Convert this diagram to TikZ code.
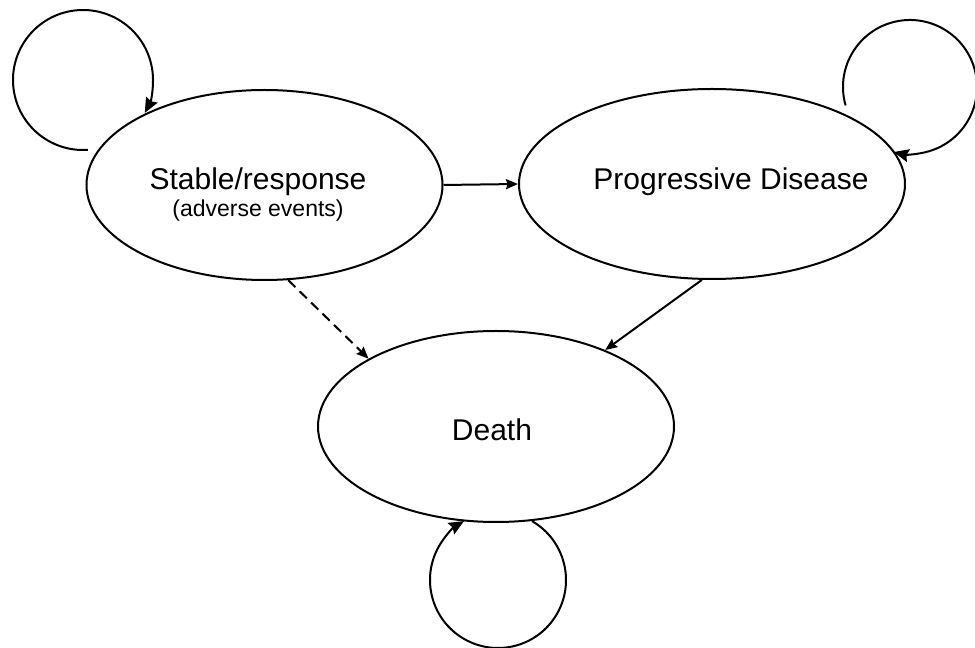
\documentclass[tikz,border=0pt]{standalone}
\usepackage{fontspec}
\setmainfont{Liberation Sans}
\usetikzlibrary{shapes.geometric,arrows.meta,calc}
\begin{document}
\begin{tikzpicture}[x=1pt,y=1pt,
  state/.style={draw=black,line width=2pt,ellipse,inner sep=0pt},
  conn/.style={line width=2pt,-{Stealth[length=12pt,width=10pt,inset=1.5pt]}},
  loopconn/.style={line width=2pt,-{Stealth[length=15pt,width=13pt,inset=2pt]}},
  bigtext/.style={font=\fontsize{30}{36}\selectfont,inner sep=0pt,anchor=base},
  smalltext/.style={font=\fontsize{23}{28}\selectfont,inner sep=0pt,anchor=base}]
\useasboundingbox (0,0) rectangle (975,648);
\node[state,minimum width=356pt,minimum height=190pt] (s) at (264.5,463) {};
\node[state,minimum width=386pt,minimum height=190pt] (p) at (712,464) {};
\node[state,minimum width=356pt,minimum height=191pt] (d) at (496,221.5) {};
\node[bigtext] (st) at (258,458) {Stable/response};
\node[smalltext] (ae) at (258,431) {(adverse events)};
\node[bigtext] (pt) at (731,458) {Progressive Disease};
\node[bigtext] (dt) at (492,207) {Death};
\draw[conn] (s.east) -- (p.west);
\draw[conn] (p.264) -- (d.35);
\draw[conn,dashed,dash pattern=on 10pt off 6pt] (s.284) -- (d.152);
\coordinate (ls) at ($(83,568)+(-86:70)$);
\draw[loopconn] (ls) arc[start angle=-86,end angle=-388,radius=70];
\coordinate (lp) at ($(910,561)+(196:67)$);
\draw[loopconn] (lp) arc[start angle=196,end angle=-104,radius=67];
\coordinate (ld) at ($(498,68)+(60:68)$);
\draw[loopconn] (ld) arc[start angle=60,end angle=-240,radius=68];
\end{tikzpicture}
\end{document}
